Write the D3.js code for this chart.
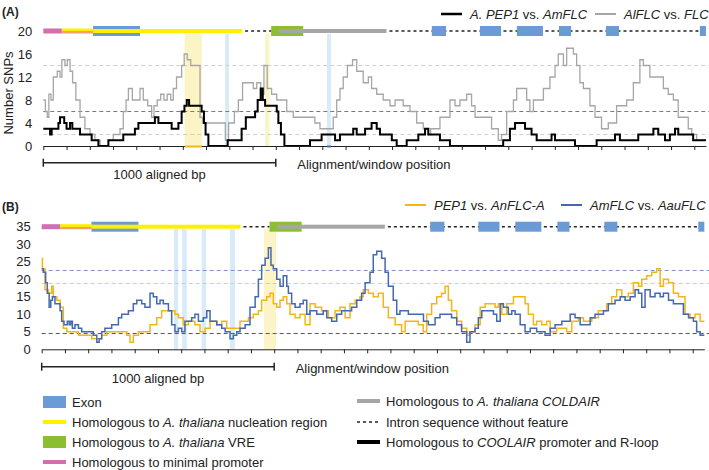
<!DOCTYPE html>
<html>
<head>
<meta charset="utf-8">
<script src="https://cdn.jsdelivr.net/npm/d3@7"></script>
<style>
body { margin: 0; background: #fff; }
svg { display: block; font-family: "Liberation Sans", Arial, sans-serif; }
</style>
</head>
<body>
<svg id="chart" width="709" height="470"></svg>
<script>
// alignment length (bp) and tick labels
const maxBp = 2850;
const xTicksBp = d3.range(0, 2801, 100);
const yTicksA = [0, 4, 8, 12, 16, 20];
const yTicksB = [0, 5, 10, 15, 20, 25, 30, 35];

// (A) A. PEP1 vs. AmFLC  - window start (bp) / number of SNPs
const pepAmPos = [0,29,36,65,72,90,100,115,125,158,208,237,280,344,394,409,480,495,552,581,595,607,617,627,681,691,698,710,793,853,871,911,922,935,944,954,1004,1011,1022,1037,1147,1197,1255,1276,1333,1348,1384,1412,1434,1448,1499,1520,1563,1613,1642,1656,1706,1749,1978,2007,2029,2072,2100,2122,2186,2201,2287,2380,2459,2480,2559,2624,2645,2674,2695,2717,2731,2795];
const pepAmSnp = [3,2,3,4,5,4,3,4,3,2,1,0,1,2,3,4,5,4,3,4,6,7,8,7,6,4,2,0,1,3,5,6,8,10,8,7,6,4,2,0,1,2,1,2,3,2,3,4,3,2,1,0,1,2,3,2,1,0,1,3,4,3,2,1,2,1,0,1,2,1,2,3,2,1,2,3,2,1];

// (A) AlFLC vs. FLC
const alFlcPos = [0,9,17,24,33,43,60,72,80,93,103,115,126,140,158,179,201,222,244,280,301,330,344,356,366,383,416,430,449,466,476,490,505,519,533,548,559,573,595,606,619,634,674,685,783,797,822,839,857,903,918,935,949,963,982,1004,1047,1075,1168,1190,1247,1262,1276,1290,1308,1330,1348,1376,1398,1412,1434,1462,1491,1513,1548,1577,1606,1634,1656,1666,1706,1749,1771,1792,1821,1842,1857,1928,1957,1971,1993,2022,2036,2079,2093,2108,2151,2179,2201,2215,2237,2251,2280,2294,2308,2323,2351,2373,2401,2430,2466,2509,2538,2566,2581,2609,2667,2688,2710,2731,2774,2789,2810];
const alFlcSnp = [8,6,5,9,8,12,13,12,15,14,15,13,11,8,5,3,2,1,0,1,2,3,6,8,10,8,10,8,7,5,7,8,9,8,9,8,10,12,14,16,15,14,5,4,1,4,6,8,11,10,11,9,14,10,9,8,6,5,4,3,5,8,10,12,14,15,13,11,12,10,9,8,7,8,7,6,4,3,2,3,5,8,7,8,9,7,5,3,1,2,6,8,10,8,6,8,10,12,14,16,14,17,16,14,11,10,7,5,3,4,7,8,11,15,14,12,10,9,8,5,3,2,1];

// (B) PEP1 vs. AnFLC-A
const pepAnPos = [0,3,14,29,43,50,65,79,93,108,158,215,258,280,366,380,394,416,466,495,516,573,588,609,631,659,681,703,724,753,774,796,853,889,910,932,946,968,982,996,1011,1025,1039,1054,1068,1090,1111,1133,1154,1176,1204,1233,1262,1283,1305,1326,1348,1369,1383,1405,1426,1448,1469,1491,1520,1548,1563,1620,1641,1656,1677,1699,1720,1735,1749,1763,1785,1806,1828,1842,1864,1886,1907,1950,1964,1979,2000,2029,2079,2093,2115,2129,2151,2172,2187,2215,2258,2280,2308,2330,2366,2394,2430,2452,2473,2495,2523,2545,2567,2581,2602,2624,2645,2660,2674,2696,2717,2739,2767,2789,2810,2832];
const pepAnSnp = [26,23,17,16,18,15,14,12,6,5,4,3,4,5,4,2,4,5,7,9,11,10,9,7,8,7,5,6,8,7,8,6,8,9,10,11,14,15,16,13,12,14,15,13,10,9,10,7,13,12,11,9,11,12,9,13,14,15,17,16,15,16,12,9,7,5,8,7,5,10,13,15,16,18,14,11,8,6,4,5,7,12,13,12,13,10,13,15,13,10,7,8,7,8,5,6,5,8,9,8,9,11,13,15,17,15,16,19,18,20,21,22,23,18,20,19,16,15,10,9,10,8];

// (B) AmFLC vs. AauFLC
const amAauPos = [0,7,17,24,32,39,46,57,79,86,96,110,118,125,132,143,158,172,222,237,247,258,272,301,330,344,373,394,409,430,444,466,480,495,509,523,545,559,573,588,602,616,645,659,674,695,710,724,753,774,789,810,824,839,853,875,896,918,932,946,961,975,986,996,1011,1025,1039,1054,1061,1075,1090,1111,1125,1140,1154,1183,1211,1226,1247,1269,1290,1333,1355,1376,1391,1412,1426,1441,1462,1477,1491,1512,1527,1541,1577,1642,1663,1692,1713,1763,1785,1806,1828,1842,1864,1878,1893,1943,1957,1972,1986,2007,2022,2036,2058,2079,2101,2129,2165,2187,2208,2237,2273,2294,2316,2359,2380,2416,2437,2466,2488,2509,2531,2552,2567,2581,2595,2617,2638,2660,2674,2696,2717,2760,2782,2803,2817,2832];
const amAauSnp = [23,22,19,16,12,14,15,13,11,8,7,8,7,8,6,7,6,5,4,2,3,5,6,7,9,10,11,13,14,13,12,16,15,13,14,13,11,7,5,6,5,8,9,10,8,9,11,8,7,6,5,3,4,5,6,7,12,15,20,24,26,29,24,23,20,18,21,18,16,13,12,13,14,10,11,10,11,9,8,10,11,12,14,16,19,22,27,28,26,22,18,14,10,11,10,8,7,9,10,9,7,5,2,5,6,9,11,10,8,13,12,10,11,10,7,5,6,5,4,6,7,8,10,9,7,9,10,11,13,14,15,14,15,17,16,12,17,15,16,15,16,14,13,10,9,8,5,4];

// gene structure (bp)
const promoterBp = [0, 80];
const nucleationBp = [80, 855];
const overlapBp = [80, 214];
const vreBp = [980, 1118];
const coldairBp = [1012, 1476];
const intronBp = [[855, 980], [1476, 2850]];
const exonBp = [[214, 416], [1671, 1732], [1878, 1969], [2037, 2149], [2218, 2270], [2420, 2476], [2824, 2850]];

// highlighted windows
const bandsA = [["vre", 608, 682], ["exon", 782, 799], ["vre", 954, 973], ["exon", 1220, 1237]];
const bandsB = [["exon", 569, 587], ["exon", 604, 624], ["exon", 688, 707], ["exon", 810, 831], ["vre", 956, 1008]];
const gridA = [14, 6, 2];
const gridB = [22.5, 18.8, 4.5];

const C = {
  pink: "#d46fae", yellow: "#fff000", salmon: "#f3a06a", exon: "#6a9bd6",
  green: "#8cbf2f", gray: "#a6a6a6", orange: "#f2b619", blue: "#4568b2",
  bandY: "#fdf4c6", bandB: "#d8ebf8"
};

const svg = d3.select("#chart");

function drawPanel(o) {
  const g = svg.append("g");
  const x = d3.scaleLinear().domain([0, maxBp]).range([o.left, o.left + maxBp * 0.2325]);
  const y = d3.scaleLinear().domain([0, o.yMax]).range([o.y0, o.yTop]);

  // background bands
  o.bands.forEach(b => {
    g.append("rect")
      .attr("x", x(b[1])).attr("width", x(b[2]) - x(b[1]))
      .attr("y", o.bandTop).attr("height", o.y0 - o.bandTop)
      .attr("fill", b[0] == "vre" ? C.bandY : C.bandB);
  });

  // threshold lines
  o.grid.forEach((v, i) => {
    g.append("line")
      .attr("x1", x(0)).attr("x2", 709)
      .attr("y1", y(v)).attr("y2", y(v))
      .attr("stroke", o.gridColors[i]).attr("stroke-width", 1)
      .attr("stroke-dasharray", "4,3");
  });

  // SNP step lines
  o.series.forEach(s => {
    const pts = s.pos.map((p, i) => [p, s.vals[i]]);
    pts.push([maxBp, s.vals[s.vals.length - 1]]);
    g.append("path").datum(pts)
      .attr("fill", "none")
      .attr("stroke", s.color)
      .attr("stroke-width", s.width)
      .attr("d", d3.line().curve(d3.curveStepAfter)
        .x(d => x(d[0])).y(d => y(d[1])));
  });

  // x axis
  g.append("g")
    .attr("transform", `translate(0,${o.y0})`)
    .call(d3.axisBottom(x).tickValues(xTicksBp).tickSize(4).tickSizeOuter(0).tickFormat(""))
    .call(a => a.selectAll("path,line").attr("stroke", "#222"));

  (o.axisMarks || []).forEach(m => {
    g.append("line")
      .attr("x1", x(m[1])).attr("x2", x(m[2]))
      .attr("y1", o.y0 + 0.5).attr("y2", o.y0 + 0.5)
      .attr("stroke", m[0]).attr("stroke-width", 2);
  });

  // y labels
  g.append("g")
    .attr("transform", `translate(${o.left},0)`)
    .call(d3.axisLeft(y).tickValues(o.yTicks).tickSize(0).tickPadding(11))
    .call(a => a.select(".domain").remove())
    .call(a => a.selectAll("text").attr("font-family", null).attr("font-size", 13).attr("fill", "#222"));

  // gene structure
  const gy = y(o.yMax);
  const bar = (r, h, col, dy) => g.append("rect")
    .attr("x", x(r[0])).attr("width", x(r[1]) - x(r[0]))
    .attr("y", gy - h / 2 + (dy || 0)).attr("height", h).attr("fill", col);
  intronBp.forEach(r => g.append("line")
    .attr("x1", x(r[0]) + 3).attr("x2", x(r[1]))
    .attr("y1", gy).attr("y2", gy)
    .attr("stroke", "#222").attr("stroke-width", 1.5).attr("stroke-dasharray", "3,3"));
  bar(promoterBp, 5, C.pink);
  bar(exonBp[0], 10, C.exon);
  bar(nucleationBp, 4, C.yellow);
  bar(overlapBp, 2.5, C.salmon, 1.25);
  bar(overlapBp, 2.5, C.yellow, -1.25);
  exonBp.slice(1).forEach(r => bar(r, 10, C.exon));
  bar(vreBp, 10, C.green);
  bar(coldairBp, 4, C.gray);

  // scale bar
  const sy = o.scaleY;
  g.append("line").attr("x1", x(0)).attr("x2", x(1000)).attr("y1", sy).attr("y2", sy).attr("stroke", "#222").attr("stroke-width", 1.5);
  [0, 1000].forEach(v => g.append("line").attr("x1", x(v)).attr("x2", x(v)).attr("y1", sy - 4).attr("y2", sy + 4).attr("stroke", "#222").attr("stroke-width", 1.5));
  g.append("text").attr("x", x(500)).attr("y", sy + 16).attr("text-anchor", "middle")
    .attr("font-size", 13).attr("fill", "#222").text("1000 aligned bp");
  g.append("text").attr("x", o.left + 254).attr("y", sy + 6)
    .attr("font-size", 13).attr("fill", "#222").text("Alignment/window position");

  // panel label
  g.append("text").attr("x", 2).attr("y", o.labelY).attr("font-size", 12)
    .attr("font-weight", "bold").attr("fill", "#222").text(o.label);

  // line legend
  o.legend.forEach(l => {
    g.append("line").attr("x1", l.x).attr("x2", l.x + 21).attr("y1", o.legendY).attr("y2", o.legendY)
      .attr("stroke", l.color).attr("stroke-width", l.width);
    const t = g.append("text").attr("x", l.x + 29).attr("y", o.legendY + 4.5)
      .attr("font-size", 13).attr("fill", "#222");
    l.parts.forEach(p => t.append("tspan").attr("font-style", p[1] ? "italic" : null).text(p[0]));
  });
  return { x, y };
}

drawPanel({
  left: 43.3, y0: 146, yTop: 31, yMax: 20, yTicks: yTicksA, bandTop: 34,
  bands: bandsA, grid: gridA, gridColors: ["#cfcfcf", "#7a7a7a", "#cfcfcf"],
  series: [
    { pos: alFlcPos, vals: alFlcSnp, color: C.gray, width: 1.3 },
    { pos: pepAmPos, vals: pepAmSnp, color: "#000", width: 2 }
  ],
  axisMarks: [[C.orange, 608, 682], [C.blue, 1220, 1237]],
  scaleY: 162.7, label: "(A)", labelY: 16, legendY: 14,
  legend: [
    { x: 441, color: "#000", width: 2.5, parts: [["A. PEP1", 1], [" vs. ", 0], ["AmFLC", 1]] },
    { x: 595, color: C.gray, width: 2, parts: [["AlFLC", 1], [" vs. ", 0], ["FLC", 1]] }
  ]
});

drawPanel({
  left: 41.7, y0: 349.3, yTop: 226.7, yMax: 35, yTicks: yTicksB, bandTop: 229,
  bands: bandsB, grid: gridB, gridColors: ["#7a95cc", "#f6c48c", "#555"],
  series: [
    { pos: pepAnPos, vals: pepAnSnp, color: C.orange, width: 1.5 },
    { pos: amAauPos, vals: amAauSnp, color: C.blue, width: 1.5 }
  ],
  scaleY: 366.7, label: "(B)", labelY: 211, legendY: 205,
  legend: [
    { x: 405, color: C.orange, width: 2, parts: [["PEP1", 1], [" vs. ", 0], ["AnFLC-A", 1]] },
    { x: 561, color: C.blue, width: 2, parts: [["AmFLC", 1], [" vs. ", 0], ["AauFLC", 1]] }
  ]
});

// y axis title for (A)
svg.append("text").attr("transform", "translate(13,93) rotate(-90)")
  .attr("text-anchor", "middle").attr("font-size", 13).attr("fill", "#222").text("Number SNPs");

// feature legend
const legendRows = [
  { x: 43, y: 402, kind: "box", color: C.exon, parts: [["Exon", 0]] },
  { x: 43, y: 422, kind: "bar", color: C.yellow, parts: [["Homologous to ", 0], ["A. thaliana", 1], [" nucleation region", 0]] },
  { x: 43, y: 442, kind: "box", color: C.green, parts: [["Homologous to ", 0], ["A. thaliana", 1], [" VRE", 0]] },
  { x: 43, y: 462, kind: "bar", color: C.pink, parts: [["Homologous to minimal promoter", 0]] },
  { x: 357, y: 401, kind: "bar", color: C.gray, parts: [["Homologous to ", 0], ["A. thaliana COLDAIR", 1]] },
  { x: 357, y: 422, kind: "dash", color: "#222", parts: [["Intron sequence without feature", 0]] },
  { x: 357, y: 442, kind: "bar", color: "#000", parts: [["Homologous to ", 0], ["COOLAIR", 1], [" promoter and R-loop", 0]] }
];
legendRows.forEach(r => {
  if (r.kind == "box") {
    svg.append("rect").attr("x", r.x).attr("y", r.y - 6).attr("width", 23).attr("height", 12).attr("fill", r.color);
  } else if (r.kind == "bar") {
    svg.append("rect").attr("x", r.x).attr("y", r.y - 2).attr("width", 23).attr("height", 4).attr("fill", r.color);
  } else {
    svg.append("line").attr("x1", r.x).attr("x2", r.x + 23).attr("y1", r.y).attr("y2", r.y)
      .attr("stroke", r.color).attr("stroke-width", 1.5).attr("stroke-dasharray", "3,3");
  }
  const t = svg.append("text").attr("x", r.x + 29).attr("y", r.y + 4.5).attr("font-size", 13).attr("fill", "#222");
  r.parts.forEach(p => t.append("tspan").attr("font-style", p[1] ? "italic" : null).text(p[0]));
});
</script>
</body>
</html>
